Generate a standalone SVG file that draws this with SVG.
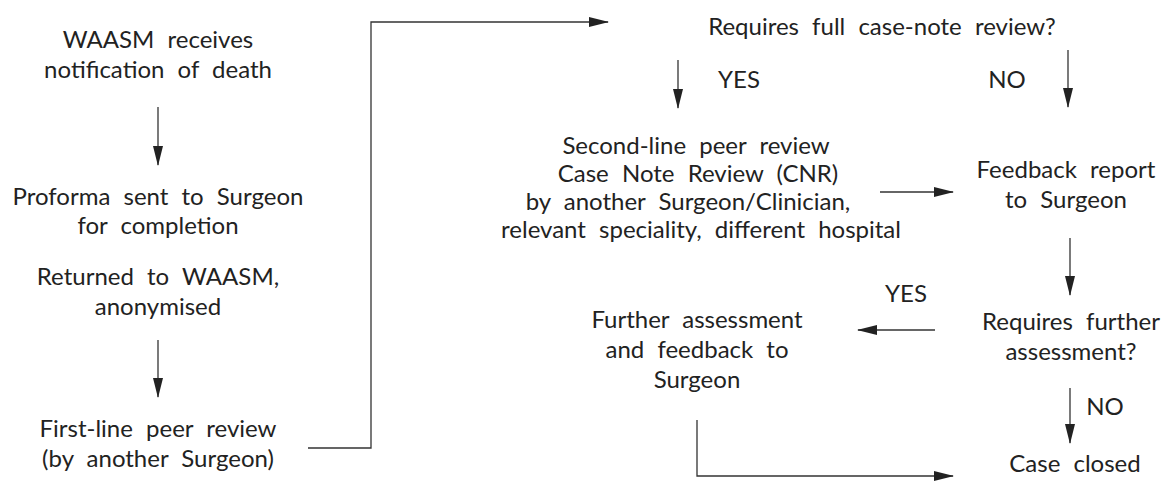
<svg xmlns="http://www.w3.org/2000/svg" width="1167" height="491" viewBox="0 0 1167 491">
<style>
text{font-family:Lato,"Open Sans","Liberation Sans",sans-serif;font-size:24px;fill:#222;text-anchor:middle;word-spacing:7px}
.c{fill:none;stroke:#333;stroke-width:1.3}
</style>
<defs>
<marker id="ah" markerWidth="20" markerHeight="10" refX="19" refY="5" orient="auto" markerUnits="userSpaceOnUse">
<path d="M0,0 L20,5 L0,10 Z" fill="#222"/>
</marker>
</defs>
<rect width="1167" height="491" fill="#fff"/>
<g id="n1"><text x="158" y="48">WAASM receives</text><text x="158" y="78">notification of death</text></g>
<g id="n2"><text x="158" y="205">Proforma sent to Surgeon</text><text x="158" y="234">for completion</text></g>
<g id="n3"><text x="158" y="285">Returned to WAASM,</text><text x="158" y="315">anonymised</text></g>
<g id="n4"><text x="158" y="437">First-line peer review</text><text x="158" y="467">(by another Surgeon)</text></g>
<g id="n5"><text x="882" y="35">Requires full case-note review?</text></g>
<g id="n6"><text x="696" y="154">Second-line peer review</text><text x="698" y="182">Case Note Review (CNR)</text><text x="688" y="210">by another Surgeon/Clinician,</text><text x="701" y="238">relevant speciality, different hospital</text></g>
<g id="n7"><text x="1066" y="178">Feedback report</text><text x="1066" y="208">to Surgeon</text></g>
<g id="n8"><text x="1071" y="330">Requires further</text><text x="1071" y="360">assessment?</text></g>
<g id="n9"><text x="697" y="328">Further assessment</text><text x="697" y="358">and feedback to</text><text x="697" y="388">Surgeon</text></g>
<g id="n10"><text x="1075" y="472">Case closed</text></g>
<g id="connectors">
<line class="c" x1="158" y1="107" x2="158" y2="165" marker-end="url(#ah)"/>
<line class="c" x1="158" y1="340" x2="158" y2="397" marker-end="url(#ah)"/>
<polyline class="c" points="308,448 371,448 371,22 608,22" marker-end="url(#ah)"/>
<line class="c" x1="678" y1="60" x2="678" y2="108" marker-end="url(#ah)"/>
<line class="c" x1="1068" y1="50" x2="1068" y2="107" marker-end="url(#ah)"/>
<line class="c" x1="880" y1="192" x2="953" y2="192" marker-end="url(#ah)"/>
<line class="c" x1="1070" y1="238" x2="1070" y2="295" marker-end="url(#ah)"/>
<line class="c" x1="935" y1="330" x2="858" y2="330" marker-end="url(#ah)"/>
<line class="c" x1="1070" y1="388" x2="1070" y2="443" marker-end="url(#ah)"/>
<polyline class="c" points="697,420 697,476 953,476" marker-end="url(#ah)"/>
<text x="739" y="88">YES</text>
<text x="1007" y="88">NO</text>
<text x="906" y="302">YES</text>
<text x="1105" y="415">NO</text>
</g>
</svg>
